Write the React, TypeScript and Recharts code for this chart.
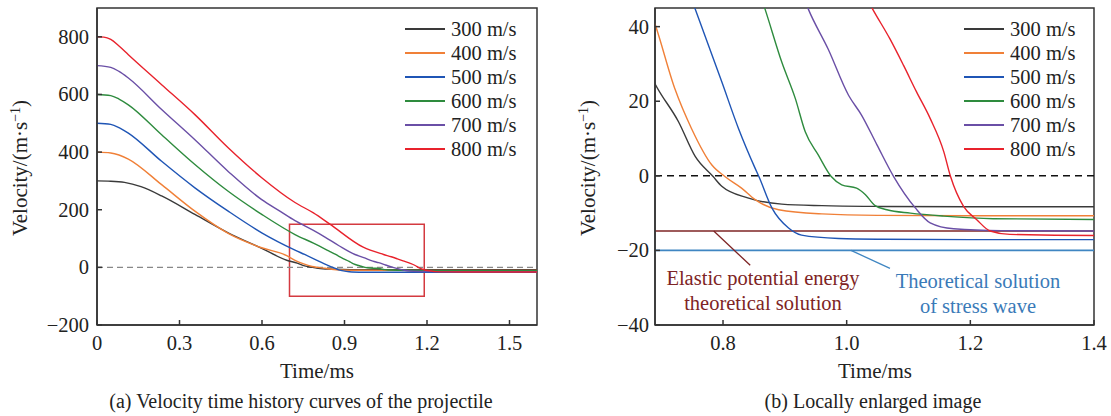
import React from 'react';
import { LineChart, Line, XAxis, YAxis, ReferenceLine, ReferenceArea, Legend } from 'recharts';

// series names and colours
const speeds = ['300 m/s', '400 m/s', '500 m/s', '600 m/s', '700 m/s', '800 m/s'];
const colors = ['#3a3a3a', '#f08038', '#1f55b5', '#2e8b3e', '#6a4fa6', '#e8222c'];

// time (ms) and velocity (m/s)
const t300 = [0, 0.05, 0.1, 0.16, 0.235, 0.356, 0.477, 0.599, 0.69, 0.728, 0.755, 0.784, 0.798, 0.84, 0.895, 0.96, 1.05, 1.2, 1.4, 1.6];
const v300 = [300, 299, 295, 280, 248, 184, 120, 66, 24.7, 14.5, 5.2, -0.2, -2.8, -5.9, -7.6, -8.0, -8.2, -8.3, -8.3, -8.3];

const t400 = [0, 0.05, 0.08, 0.114, 0.235, 0.356, 0.477, 0.599, 0.69, 0.722, 0.749, 0.782, 0.803, 0.83, 0.852, 0.89, 0.96, 1.05, 1.2, 1.4, 1.6];
const v400 = [400, 397, 390, 376, 287, 195, 118, 68, 40.7, 23.4, 12.7, 2.9, -0.2, -3.3, -6.4, -9.1, -10.2, -10.6, -10.7, -10.7, -10.7];

const t500 = [0, 0.05, 0.08, 0.114, 0.235, 0.356, 0.477, 0.599, 0.72, 0.755, 0.798, 0.825, 0.852, 0.858, 0.879, 0.906, 0.927, 0.987, 1.05, 1.2, 1.4, 1.6];
const v500 = [500, 496, 485, 466, 368, 276, 195, 120, 60, 44.7, 25.2, 12.7, 2.0, -0.2, -8.6, -14.0, -15.9, -16.8, -17.0, -17.1, -17.1, -17.1];

const t600 = [0, 0.05, 0.08, 0.114, 0.235, 0.356, 0.477, 0.599, 0.72, 0.787, 0.847, 0.868, 0.895, 0.917, 0.933, 0.954, 0.975, 0.992, 1.016, 1.03, 1.046, 1.065, 1.103, 1.157, 1.237, 1.4, 1.6];
const v600 = [600, 596, 584, 564, 460, 357, 264, 184, 114, 84, 55, 44.7, 30.5, 20.7, 11.8, 5.6, -0.2, -2.4, -3.3, -5.0, -8.0, -9.1, -10.0, -10.8, -11.5, -11.7, -11.7];

const t700 = [0, 0.05, 0.08, 0.114, 0.235, 0.356, 0.477, 0.599, 0.665, 0.72, 0.787, 0.829, 0.88, 0.938, 0.97, 1.003, 1.024, 1.049, 1.076, 1.111, 1.135, 1.173, 1.25, 1.4, 1.6];
const v700 = [700, 694, 680, 657, 548, 443, 333, 235, 195, 162, 128, 105, 75, 44.7, 34, 21.6, 16.3, 8.3, -0.2, -8.6, -12.6, -14.2, -14.7, -14.8, -14.8];

const t800 = [0, 0.025, 0.05, 0.08, 0.114, 0.235, 0.356, 0.477, 0.599, 0.72, 0.787, 0.847, 0.968, 1.042, 1.07, 1.092, 1.113, 1.135, 1.157, 1.168, 1.189, 1.21, 1.232, 1.264, 1.4, 1.6];
const v800 = [800, 799, 791, 768, 738, 634, 530, 415, 311, 225, 189, 150, 70, 44.7, 36.7, 29.6, 22.5, 15.4, 6.5, -0.2, -8.2, -11.7, -14.8, -15.7, -16.0, -16.0];

const times = [t300, t400, t500, t600, t700, t800];
const vels = [v300, v400, v500, v600, v700, v800];

// axes
const xTicksA = [0, 0.3, 0.6, 0.9, 1.2, 1.5];
const yTicksA = [-200, 0, 200, 400, 600, 800];
const xTicksB = [0.8, 1.0, 1.2, 1.4];
const yTicksB = [-40, -20, 0, 20, 40];

// theoretical solutions (m/s)
const elasticLevel = -14.8;
const stressWaveLevel = -20;

const series = speeds.map((name, i) => ({
  name,
  color: colors[i],
  data: times[i].map((t, j) => ({ t, v: vels[i][j] })),
}));

const FONT = 'Liberation Serif';
const serif = { fontFamily: FONT };
const axisLine = { stroke: '#333', strokeWidth: 1.5 };
const minus = (v: number) => String(v).replace('-', '\u2212');

// tick labels drawn with an explicit serif face
const Tick = ({ x, y, payload, textAnchor, fmt, dy }: any) => (
  <text x={x} y={y} dy={dy} textAnchor={textAnchor} fontFamily={FONT} fontSize={20.5} fill="#222" style={serif}>
    {fmt(payload.value)}
  </text>
);

const LegendBox = () => (
  <div style={serif}>
    {series.map((s) => (
      <div key={s.name} style={{ display: 'flex', alignItems: 'center', height: 24 }}>
        <div style={{ width: 40, height: 1.5, background: s.color, marginRight: 6 }} />
        <span style={{ fontSize: 20.5, color: '#222', lineHeight: '24px', fontFamily: FONT }}>{s.name}</span>
      </div>
    ))}
  </div>
);

const curves = () =>
  series.map((s) => (
    <Line
      key={s.name}
      data={s.data}
      dataKey="v"
      name={s.name}
      type="monotone"
      stroke={s.color}
      strokeWidth={1.4}
      dot={false}
      activeDot={false}
      isAnimationActive={false}
    />
  ));

const Label = ({ x, y, size = 21, color = '#222', children, rotate }: any) => (
  <text
    x={rotate ? 0 : x}
    y={rotate ? 0 : y}
    transform={rotate ? 'translate(' + x + ',' + y + ') rotate(-90)' : undefined}
    textAnchor="middle"
    fontFamily={FONT}
    fontSize={size}
    fill={color}
    style={serif}
  >
    {children}
  </text>
);

const App = () => (
  <div style={{ position: 'absolute', left: 0, top: 0, width: 1111, height: 416, background: '#fff' }}>
    {/* (a) full history */}
    <div style={{ position: 'absolute', left: 0, top: 0 }}>
      <LineChart width={560} height={416} margin={{ top: 8, right: 23, left: 0, bottom: 0 }}>
        <XAxis
          dataKey="t"
          type="number"
          domain={[0, 1.6]}
          ticks={xTicksA}
          height={91}
          tickSize={-5}
          tickMargin={15}
          tick={<Tick fmt={(v: number) => String(v)} dy={15} />}
          axisLine={axisLine}
          tickLine={{ stroke: '#333', strokeWidth: 1.5 }}
        />
        <YAxis
          type="number"
          domain={[-200, 900]}
          ticks={yTicksA}
          width={97}
          tickSize={-5}
          tickMargin={13}
          tick={<Tick fmt={minus} dy={7} />}
          axisLine={axisLine}
          tickLine={{ stroke: '#333', strokeWidth: 1.5 }}
        />
        <ReferenceArea x1={0} x2={1.6} y1={-200} y2={900} fill="none" stroke="#333" strokeWidth={1.5} ifOverflow="visible" />
        <ReferenceLine y={0} stroke="#888" strokeWidth={1.3} strokeDasharray="6 4" />
        {curves()}
        <ReferenceArea x1={0.7} x2={1.19} y1={-100} y2={150} fill="none" stroke="#d43a40" strokeWidth={1.5} ifOverflow="visible" />
        <Legend
          layout="vertical"
          align="center"
          verticalAlign="middle"
          content={<LegendBox />}
          wrapperStyle={{ top: 17, left: 405, width: 140 }}
        />
      </LineChart>
    </div>

    {/* (b) enlarged */}
    <div style={{ position: 'absolute', left: 560, top: 0 }}>
      <LineChart width={551} height={416} margin={{ top: 8, right: 17, left: 0, bottom: 0 }}>
        <XAxis
          dataKey="t"
          type="number"
          domain={[0.69, 1.4]}
          ticks={xTicksB}
          allowDataOverflow
          height={91}
          tickSize={-5}
          tickMargin={15}
          tick={<Tick fmt={(v: number) => v.toFixed(1)} dy={15} />}
          axisLine={axisLine}
          tickLine={{ stroke: '#333', strokeWidth: 1.5 }}
        />
        <YAxis
          type="number"
          domain={[-40, 45]}
          ticks={yTicksB}
          allowDataOverflow
          width={95}
          tickSize={-5}
          tickMargin={11}
          tick={<Tick fmt={minus} dy={7} />}
          axisLine={axisLine}
          tickLine={{ stroke: '#333', strokeWidth: 1.5 }}
        />
        <ReferenceArea x1={0.69} x2={1.4} y1={-40} y2={45} fill="none" stroke="#333" strokeWidth={1.5} ifOverflow="visible" />
        <ReferenceLine y={0} stroke="#111" strokeWidth={1.4} strokeDasharray="7 5" />
        <ReferenceLine y={elasticLevel} stroke="#7e2424" strokeWidth={1.5} />
        <ReferenceLine y={stressWaveLevel} stroke="#3f86c2" strokeWidth={1.8} />
        <ReferenceLine segment={[{ x: 0.785, y: elasticLevel }, { x: 0.844, y: -24 }]} stroke="#7e2424" strokeWidth={1.3} />
        <ReferenceLine segment={[{ x: 1.007, y: stressWaveLevel }, { x: 1.07, y: -24.8 }]} stroke="#3f86c2" strokeWidth={1.3} />
        {curves()}
        <Legend
          layout="vertical"
          align="center"
          verticalAlign="middle"
          content={<LegendBox />}
          wrapperStyle={{ top: 17, left: 404, width: 140 }}
        />
      </LineChart>
    </div>

    {/* axis titles, captions, annotations */}
    <svg width={1111} height={416} style={{ position: 'absolute', left: 0, top: 0, pointerEvents: 'none' }}>
      <Label x={27} y={168} rotate>
        Velocity/(m·s<tspan dy={-7} fontSize={14}>−1</tspan>
        <tspan dy={7}>)</tspan>
      </Label>
      <Label x={595} y={168} rotate>
        Velocity/(m·s<tspan dy={-7} fontSize={14}>−1</tspan>
        <tspan dy={7}>)</tspan>
      </Label>
      <Label x={317} y={378}>Time/ms</Label>
      <Label x={875} y={378}>Time/ms</Label>
      <Label x={301} y={408} size={20}>(a) Velocity time history curves of the projectile</Label>
      <Label x={873} y={408} size={20}>(b) Locally enlarged image</Label>

      <Label x={763} y={285} size={20.5} color="#7e2424">Elastic potential energy</Label>
      <Label x={763} y={310} size={20.5} color="#7e2424">theoretical solution</Label>
      <Label x={978} y={288} size={20.5} color="#3a7ab8">Theoretical solution</Label>
      <Label x={978} y={313} size={20.5} color="#3a7ab8">of stress wave</Label>
    </svg>
  </div>
);

export default App;
